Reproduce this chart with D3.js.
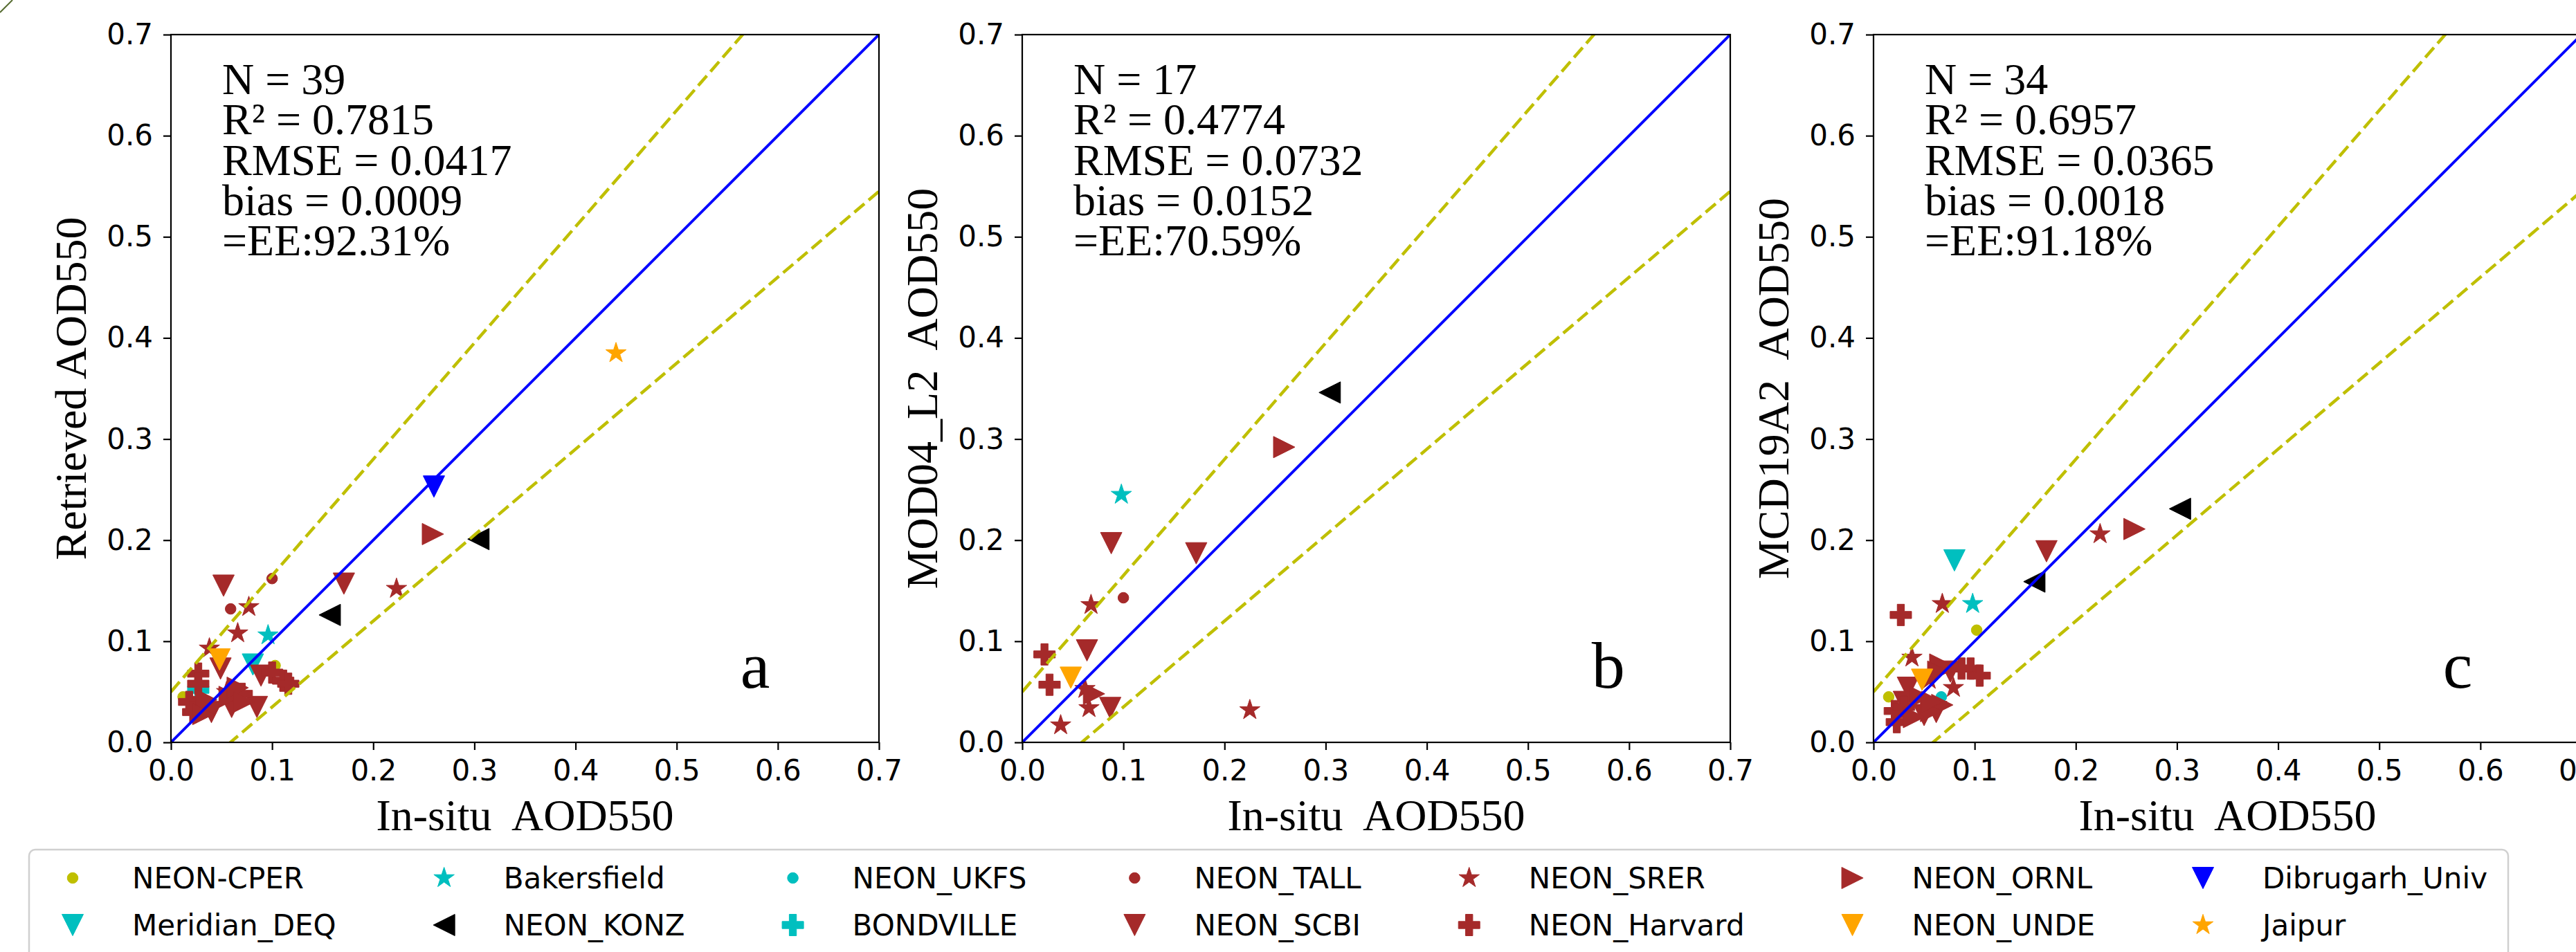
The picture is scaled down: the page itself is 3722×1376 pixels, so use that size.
<!DOCTYPE html>
<html>
<head>
<meta charset="utf-8">
<script src="https://cdn.jsdelivr.net/npm/d3@7"></script>
<style>
  body { margin: 0; background: #fff; }
  .serif { font-family: "Liberation Serif", "Times New Roman", serif; }
  .sans { font-family: "DejaVu Sans", sans-serif; }
</style>
</head>
<body>
<div id="chart"></div>
<script>
// Stations (legend order = drawing order)
const stations = ["NEON-CPER", "Meridian_DEQ", "Bakersfield", "NEON_KONZ", "NEON_UKFS", "BONDVILLE",
    "NEON_TALL", "NEON_SCBI", "NEON_SRER", "NEON_Harvard", "NEON_ORNL", "NEON_UNDE",
    "Dibrugarh_Univ", "Jaipur"];
const stationColors = ["#bfbf00", "#00bfbf", "#00bfbf", "#000000", "#00bfbf", "#00bfbf",
    "#a52a2a", "#a52a2a", "#a52a2a", "#a52a2a", "#a52a2a", "#ffa500", "#0000ff", "#ffa500"];
const stationShapes = ["point", "tri_down", "star", "tri_left", "point", "plus",
    "point", "tri_down", "star", "plus", "tri_right", "tri_down", "tri_down", "star"];

// Points: [station, in-situ AOD550, retrieved AOD550]
const pointsA = [
    ["Jaipur", 0.440, 0.385], ["Dibrugarh_Univ", 0.260, 0.253], ["NEON_ORNL", 0.259, 0.206],
    ["NEON_KONZ", 0.304, 0.201], ["NEON_KONZ", 0.157, 0.126], ["NEON_SCBI", 0.171, 0.157],
    ["NEON_SRER", 0.223, 0.152], ["NEON_SCBI", 0.052, 0.155], ["NEON_TALL", 0.100, 0.162],
    ["NEON_TALL", 0.059, 0.132], ["NEON_SRER", 0.077, 0.134], ["NEON_SRER", 0.066, 0.108],
    ["Bakersfield", 0.096, 0.106], ["NEON_SRER", 0.038, 0.093], ["NEON_UNDE", 0.048, 0.082],
    ["NEON_SCBI", 0.049, 0.073], ["Meridian_DEQ", 0.081, 0.077], ["NEON-CPER", 0.103, 0.076],
    ["NEON_SCBI", 0.089, 0.066], ["NEON_Harvard", 0.100, 0.069], ["NEON_Harvard", 0.111, 0.061],
    ["NEON_Harvard", 0.116, 0.058], ["NEON_Harvard", 0.027, 0.068], ["NEON_Harvard", 0.027, 0.058],
    ["NEON-CPER", 0.012, 0.045], ["BONDVILLE", 0.027, 0.052], ["NEON_Harvard", 0.018, 0.040],
    ["NEON_Harvard", 0.022, 0.030], ["NEON_SCBI", 0.028, 0.035], ["NEON_ORNL", 0.035, 0.042],
    ["NEON_SCBI", 0.040, 0.030], ["NEON_ORNL", 0.032, 0.028], ["NEON_ORNL", 0.058, 0.045],
    ["NEON_SCBI", 0.060, 0.035], ["NEON_ORNL", 0.066, 0.054], ["NEON_SRER", 0.055, 0.050],
    ["NEON_ORNL", 0.072, 0.040], ["NEON_SCBI", 0.085, 0.035], ["NEON_Harvard", 0.070, 0.048]
];
const pointsB = [
    ["Bakersfield", 0.098, 0.245], ["NEON_SCBI", 0.088, 0.197], ["NEON_SCBI", 0.172, 0.187],
    ["NEON_TALL", 0.100, 0.143], ["NEON_SRER", 0.068, 0.136], ["NEON_SCBI", 0.064, 0.091],
    ["NEON_Harvard", 0.022, 0.087], ["NEON_Harvard", 0.027, 0.057], ["NEON_UNDE", 0.048, 0.064],
    ["NEON_SRER", 0.062, 0.053], ["NEON_ORNL", 0.071, 0.048], ["NEON_SRER", 0.066, 0.034],
    ["NEON_SCBI", 0.087, 0.034], ["NEON_SRER", 0.038, 0.017], ["NEON_SRER", 0.225, 0.032],
    ["NEON_KONZ", 0.304, 0.346], ["NEON_ORNL", 0.259, 0.292]
];
const pointsC = [
    ["NEON_SRER", 0.224, 0.206], ["NEON_SCBI", 0.171, 0.189], ["Meridian_DEQ", 0.080, 0.180],
    ["NEON_KONZ", 0.159, 0.159], ["NEON_Harvard", 0.027, 0.126], ["NEON_SRER", 0.068, 0.137],
    ["Bakersfield", 0.098, 0.137], ["NEON-CPER", 0.102, 0.111], ["NEON_SRER", 0.038, 0.084],
    ["NEON_ORNL", 0.066, 0.077], ["NEON_Harvard", 0.096, 0.073], ["NEON_Harvard", 0.105, 0.066],
    ["NEON_Harvard", 0.087, 0.073], ["NEON_UNDE", 0.048, 0.062], ["NEON_SRER", 0.079, 0.054],
    ["NEON-CPER", 0.015, 0.045], ["NEON_UKFS", 0.067, 0.045], ["NEON_ORNL", 0.068, 0.037],
    ["NEON_SCBI", 0.034, 0.054], ["NEON_Harvard", 0.023, 0.020], ["NEON_Harvard", 0.021, 0.031],
    ["NEON_SCBI", 0.050, 0.027], ["NEON_ORNL", 0.057, 0.031], ["NEON_SCBI", 0.030, 0.040],
    ["NEON_ORNL", 0.046, 0.045], ["NEON_ORNL", 0.064, 0.070], ["NEON_KONZ", 0.303, 0.231],
    ["NEON_ORNL", 0.258, 0.211], ["NEON_ORNL", 0.058, 0.040], ["NEON_SCBI", 0.062, 0.030],
    ["NEON_ORNL", 0.040, 0.025], ["NEON_SCBI", 0.076, 0.070], ["NEON_Harvard", 0.030, 0.035],
    ["NEON_SRER", 0.055, 0.062]
];

// Panel texts
const panelLetters = ["a", "b", "c"];
const yTitles = ["Retrieved AOD550", "MOD04_L2  AOD550", "MCD19A2  AOD550"];
const xTitle = "In-situ  AOD550";
const statN = ["39", "17", "34"];
const statR2 = ["0.7815", "0.4774", "0.6957"];
const statRMSE = ["0.0417", "0.0732", "0.0365"];
const statBias = ["0.0009", "0.0152", "0.0018"];
const statEE = ["92.31%", "70.59%", "91.18%"];

// Axis ticks and expected-error envelope (±(0.05 + 0.15τ))
const tickValues = [0, 0.1, 0.2, 0.3, 0.4, 0.5, 0.6, 0.7];
const axisDomain = [0, 0.7];
const eeSlopes = [1.15, 0.85];
const eeOffsets = [0.05, -0.05];

// Layout
const width = 3722, height = 1376;
const panelLeft = [247, 1477, 2707];
const plotTop = 50, plotSize = 1023;
const markerSize = 31;

const svg = d3.select('#chart')
    .append('svg')
    .attr('width', width)
    .attr('height', height)
    .style('display', 'block');

svg.append('rect').attr('width', width).attr('height', height).attr('fill', '#fff');

// petit trait vert dans le coin (artefact de la figure d'origine)
svg.append('line')
    .attr('x1', 0).attr('y1', 18).attr('x2', 18).attr('y2', 0)
    .attr('stroke', '#556b2f').attr('stroke-width', 2);

// Marker shapes, matplotlib-like proportions
function markerPath(shape, s) {
    const h = s / 2;
    if (shape === 'point') {
        const r = s / 4;
        return `M${r},0A${r},${r} 0 1,1 ${-r},0A${r},${r} 0 1,1 ${r},0Z`;
    }
    if (shape === 'tri_down') return `M0,${h}L${-h},${-h}L${h},${-h}Z`;
    if (shape === 'tri_left') return `M${-h},0L${h},${-h}L${h},${h}Z`;
    if (shape === 'tri_right') return `M${h},0L${-h},${-h}L${-h},${h}Z`;
    if (shape === 'plus') {
        const t = s / 6;
        return `M${-t},${-h}L${t},${-h}L${t},${-t}L${h},${-t}L${h},${t}L${t},${t}L${t},${h}` +
            `L${-t},${h}L${-t},${t}L${-h},${t}L${-h},${-t}L${-t},${-t}Z`;
    }
    if (shape === 'star') {
        const R = h, r = h * 0.381966;
        let d = '';
        for (let k = 0; k < 10; k++) {
            const a = -Math.PI / 2 + k * Math.PI / 5;
            const rr = k % 2 === 0 ? R : r;
            d += (k === 0 ? 'M' : 'L') + (rr * Math.cos(a)).toFixed(2) + ',' + (rr * Math.sin(a)).toFixed(2);
        }
        return d + 'Z';
    }
    return '';
}

const allPoints = [pointsA, pointsB, pointsC];

allPoints.forEach((pts, i) => {
    const xScale = d3.scaleLinear().domain(axisDomain).range([0, plotSize]);
    const yScale = d3.scaleLinear().domain(axisDomain).range([plotSize, 0]);

    const g = svg.append('g')
        .attr('transform', `translate(${panelLeft[i]}, ${plotTop})`);

    const clipId = 'clip-' + i;
    g.append('clipPath').attr('id', clipId)
        .append('rect').attr('width', plotSize).attr('height', plotSize);

    const inner = g.append('g').attr('clip-path', `url(#${clipId})`);

    // points, drawn station by station
    const ordered = pts.map((p, j) => ({ station: p[0], x: p[1], y: p[2], j }))
        .sort((a, b) => (stations.indexOf(a.station) - stations.indexOf(b.station)) || (a.j - b.j));

    inner.selectAll('.pt')
        .data(ordered)
        .enter()
        .append('path')
        .attr('class', 'pt')
        .attr('transform', d => `translate(${xScale(d.x)}, ${yScale(d.y)})`)
        .attr('d', d => markerPath(stationShapes[stations.indexOf(d.station)], markerSize))
        .attr('fill', d => stationColors[stations.indexOf(d.station)])
        .attr('stroke', d => stationColors[stations.indexOf(d.station)])
        .attr('stroke-width', 1);

    // 1:1 line
    inner.append('line')
        .attr('x1', xScale(axisDomain[0])).attr('y1', yScale(axisDomain[0]))
        .attr('x2', xScale(axisDomain[1])).attr('y2', yScale(axisDomain[1]))
        .attr('stroke', '#0000ff').attr('stroke-width', 4);

    // EE envelope
    eeSlopes.forEach((m, k) => {
        inner.append('line')
            .attr('x1', xScale(axisDomain[0])).attr('y1', yScale(m * axisDomain[0] + eeOffsets[k]))
            .attr('x2', xScale(axisDomain[1])).attr('y2', yScale(m * axisDomain[1] + eeOffsets[k]))
            .attr('stroke', '#bfbf00').attr('stroke-width', 4.5)
            .attr('stroke-dasharray', '19,8');
    });

    // axes
    const xAxis = d3.axisBottom(xScale).tickValues(tickValues).tickFormat(d3.format('.1f'))
        .tickSize(11).tickPadding(14).tickSizeOuter(0);
    const yAxis = d3.axisLeft(yScale).tickValues(tickValues).tickFormat(d3.format('.1f'))
        .tickSize(11).tickPadding(15).tickSizeOuter(0);

    const gx = g.append('g').attr('transform', `translate(0, ${plotSize})`).call(xAxis);
    const gy = g.append('g').call(yAxis);
    [gx, gy].forEach(ax => {
        ax.select('.domain').remove();
        ax.selectAll('line').attr('stroke', '#000').attr('stroke-width', 2.2);
        ax.selectAll('text').attr('class', 'sans').attr('font-size', 42).attr('fill', '#000');
    });

    g.append('rect')
        .attr('width', plotSize).attr('height', plotSize)
        .attr('fill', 'none').attr('stroke', '#000').attr('stroke-width', 2.2);

    // axis titles
    g.append('text')
        .attr('class', 'serif')
        .attr('x', plotSize / 2).attr('y', plotSize + 127)
        .attr('text-anchor', 'middle')
        .attr('font-size', 64)
        .style('white-space', 'pre')
        .text(xTitle);

    g.append('text')
        .attr('class', 'serif')
        .attr('transform', `translate(-123, ${plotSize / 2}) rotate(-90)`)
        .attr('text-anchor', 'middle')
        .attr('font-size', 64)
        .style('white-space', 'pre')
        .text(yTitles[i]);

    // statistics block (one text, tight line spacing as in the original)
    const statLines = [
        `N = ${statN[i]}`,
        `R² = ${statR2[i]}`,
        `RMSE = ${statRMSE[i]}`,
        `bias = ${statBias[i]}`,
        `=EE:${statEE[i]}`
    ];
    const stats = g.append('text')
        .attr('class', 'serif')
        .attr('x', 74)
        .attr('y', 86)
        .attr('font-size', 64);
    statLines.forEach((s, k) => {
        stats.append('tspan')
            .attr('x', 74)
            .attr('dy', k === 0 ? 0 : 58.3)
            .text(s);
    });

    // panel letter
    g.append('text')
        .attr('class', 'serif')
        .attr('x', xScale(0.563))
        .attr('y', yScale(0.054))
        .attr('font-size', 96)
        .text(panelLetters[i]);
});

// Legend (2 rows x 7 columns, column-major)
const legendFont = 42;
const legendLeft = 42, legendTop = 1228;
const rowCenters = [1269, 1337];
const markerToText = 86, colGap = 156;

const legend = svg.append('g');
const frame = legend.append('rect')
    .attr('x', legendLeft).attr('y', legendTop)
    .attr('rx', 9).attr('ry', 9)
    .attr('height', 220)
    .attr('fill', '#fff')
    .attr('stroke', '#d0d0d0').attr('stroke-width', 2.5);

let markerX = 105;
let lastEnd = 0;
const nCols = Math.ceil(stations.length / 2);
for (let c = 0; c < nCols; c++) {
    let maxW = 0;
    for (let r = 0; r < 2; r++) {
        const idx = c * 2 + r;
        if (idx >= stations.length) continue;
        legend.append('path')
            .attr('transform', `translate(${markerX}, ${rowCenters[r]})`)
            .attr('d', markerPath(stationShapes[idx], markerSize))
            .attr('fill', stationColors[idx])
            .attr('stroke', stationColors[idx])
            .attr('stroke-width', 1);
        const t = legend.append('text')
            .attr('class', 'sans')
            .attr('x', markerX + markerToText)
            .attr('y', rowCenters[r])
            .attr('dy', '0.36em')
            .attr('font-size', legendFont)
            .text(stations[idx]);
        maxW = Math.max(maxW, t.node().getComputedTextLength());
    }
    lastEnd = markerX + markerToText + maxW;
    markerX = lastEnd + colGap;
}
frame.attr('width', lastEnd + 30 - legendLeft);
</script>
</body>
</html>
